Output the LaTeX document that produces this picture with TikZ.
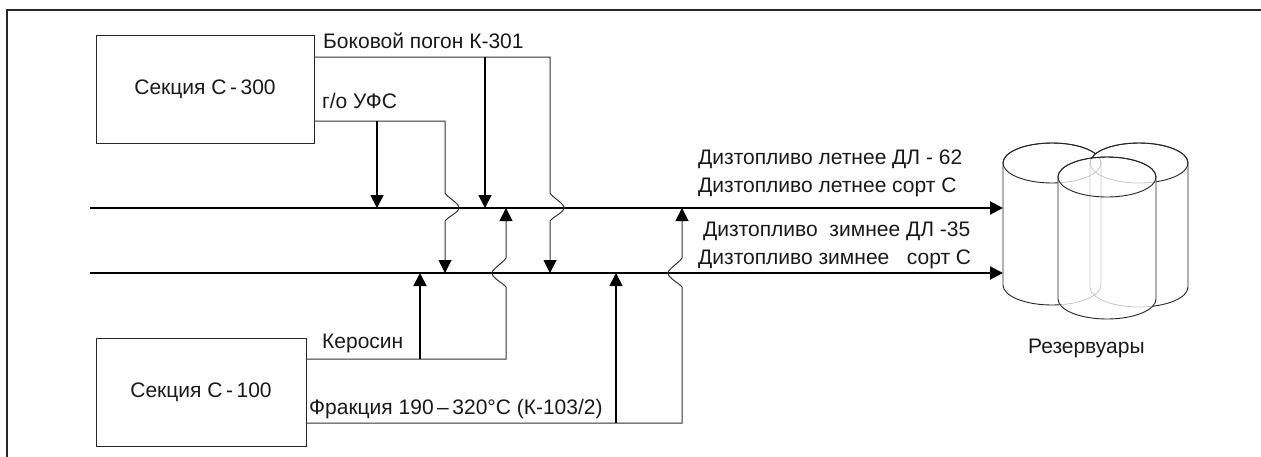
\documentclass[tikz,border=0pt]{standalone}
\usepackage{fontspec}
\setmainfont{Liberation Sans}
\usetikzlibrary{arrows.meta,calc}

\tikzset{
  txt/.style={font=\fontsize{21}{24}\selectfont, text=black!90},
  unit/.style={draw=black!85, line width=0.9pt, txt},
  lbl/.style={anchor=base west, inner sep=0pt, txt},
  tip/.style={-{Triangle[length=13pt,width=13pt,color=black]}},
  mainline/.style={line width=2pt, tip},
  feed/.style={line width=1.8pt, tip},
  pipe/.style={line width=1pt, draw=black!80, tip},
  % crossing hop bulging to the right (line running downward)
  hopR/.style={insert path={
    -- ($(#1)+(0,-15)$) .. controls ($(#1)+(3,-10)$) and ($(#1)+(14,-5)$) .. ($(#1)+(14,0)$)
    .. controls ($(#1)+(14,4)$) and ($(#1)+(3,9)$) .. ($(#1)+(0,13)$)}},
  % crossing hop bulging to the left (line running upward)
  hopL/.style={insert path={
    -- ($(#1)+(0,14)$) .. controls ($(#1)+(-3,10)$) and ($(#1)+(-14,5)$) .. ($(#1)+(-14,0)$)
    .. controls ($(#1)+(-14,-4)$) and ($(#1)+(-3,-10)$) .. ($(#1)+(0,-15)$)}},
  % outline of a vertical tank: centre x, top y, bottom y
  tank/.style n args={3}{insert path={
    (#1-49,#2) -- (#1-49,#3) arc[start angle=180,end angle=360,x radius=49pt,y radius=20pt]
    -- (#1+49,#2) arc[start angle=0,end angle=180,x radius=49pt,y radius=20pt] -- cycle}},
  tankline/.style={draw=black!85, line width=0.9pt},
  hidden/.style={draw=black!22, line width=0.8pt},
}

\begin{document}
\begin{tikzpicture}[x=1pt,y=-1pt]
\useasboundingbox (0,0) rectangle (1261,456);

% frame
\draw[line width=1.2pt, black!85] (7,470) -- (7,10) -- (1280,10);

% process units
\node[unit, minimum width=218pt, minimum height=108pt] (s300) at (205,89) {Секция С\,-\,300};
\node[unit, minimum width=210pt, minimum height=108pt] (s100) at (201,392) {Секция С\,-\,100};

% key points
\coordinate (b0) at (314,57);  \coordinate (b1) at (485,57);  \coordinate (b2) at (550,57);
\coordinate (g0) at (314,121); \coordinate (g1) at (377,121); \coordinate (g2) at (445,121);
\coordinate (k0) at (306,359); \coordinate (k1) at (420,359); \coordinate (k2) at (506,359);
\coordinate (f0) at (306,423); \coordinate (f1) at (616,423); \coordinate (f2) at (682,423);

\coordinate (m0) at (90,208);  \coordinate (m1) at (1003,208);
\coordinate (n0) at (90,273);  \coordinate (n1) at (1003,273);

\coordinate (ta) at (377,208); \coordinate (tb) at (485,208);
\coordinate (tc) at (506,208); \coordinate (td) at (682,208);
\coordinate (hg) at (445,208); \coordinate (hb) at (550,208);

\coordinate (ba) at (420,273); \coordinate (bg) at (445,273);
\coordinate (bc) at (550,273); \coordinate (bd) at (616,273);
\coordinate (hk) at (506,273); \coordinate (hf) at (682,273);

% collectors
\draw[mainline] (m0) -- (m1);
\draw[mainline] (n0) -- (n1);

% feeds from section C-300
\draw[pipe] (b0) -- (b2) [hopR=hb] -- (bc);
\draw[feed] (b1) -- (tb);
\draw[pipe] (g0) -- (g2) [hopR=hg] -- (bg);
\draw[feed] (g1) -- (ta);

% feeds from section C-100
\draw[pipe] (k0) -- (k2) [hopL=hk] -- (tc);
\draw[feed] (k1) -- (ba);
\draw[pipe] (f0) -- (f2) [hopL=hf] -- (td);
\draw[feed] (f1) -- (bd);

% stream labels
\node[lbl] (tb301) at (323,48) {Боковой погон К-301};
\node[lbl] (tgo) at (322,108) {г/о УФС};
\node[lbl] (tker) at (322,348) {Керосин};
\node[lbl] (tfr) at (309,414) {Фракция 190\,–\,320°C (К-103/2)};
\node[lbl] (d1) at (698,164) {Дизтопливо летнее ДЛ - 62};
\node[lbl] (d2) at (698,192) {Дизтопливо летнее сорт С};
\node[lbl] (d3) at (703,236) {Дизтопливо\ \ зимнее ДЛ -35};
\node[lbl] (d4) at (698,264) {Дизтопливо зимнее\ \ \ сорт С};

% tank farm
\path[fill=white, tankline, tank={1052}{163}{285}];
\draw[tankline] (1052,163) ellipse[x radius=49pt, y radius=20pt];
\path[fill=white, tankline, tank={1139}{163}{287}];
\draw[tankline] (1139,163) ellipse[x radius=49pt, y radius=20pt];
\path[fill=white, tank={1107}{177}{299}];
\begin{scope}
  \path[clip, tank={1107}{177}{299}];
  \path[hidden, tank={1052}{163}{285}];
  \draw[hidden] (1052,163) ellipse[x radius=49pt, y radius=20pt];
  \path[hidden, tank={1139}{163}{287}];
  \draw[hidden] (1139,163) ellipse[x radius=49pt, y radius=20pt];
\end{scope}
\path[tankline, tank={1107}{177}{299}];
\draw[tankline] (1107,177) ellipse[x radius=49pt, y radius=20pt];

\node[lbl] (tres) at (1028,353) {Резервуары};
\end{tikzpicture}
\end{document}
